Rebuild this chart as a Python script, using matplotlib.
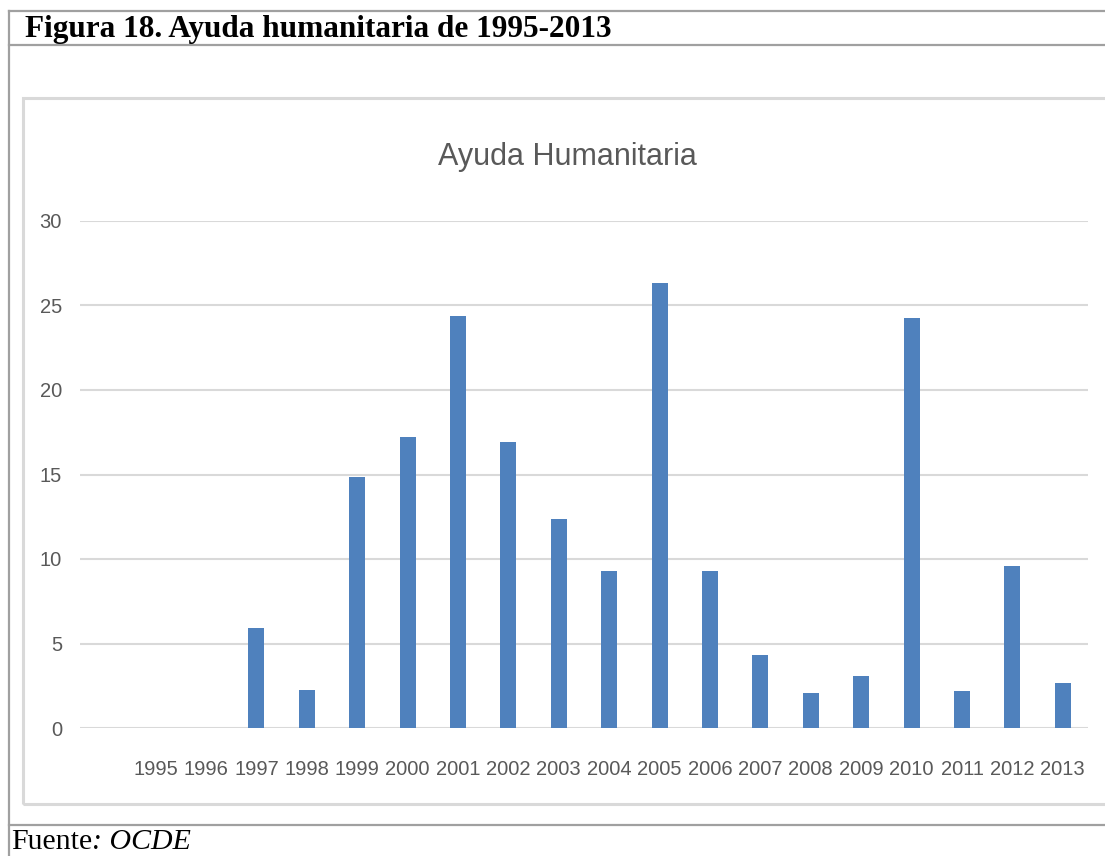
import matplotlib
matplotlib.use("Agg")
import matplotlib.pyplot as plt
from matplotlib.patches import Rectangle
from matplotlib.lines import Line2D

years = [str(y) for y in range(1995, 2014)]
values = [0, 0, 5.9, 2.25, 14.85, 17.2, 24.4, 16.9, 12.35, 9.3, 26.35,
          9.3, 4.3, 2.1, 3.1, 24.25, 2.2, 9.6, 2.65]
y_ticks = [0, 5, 10, 15, 20, 25, 30]

W, H = 1105, 856
DPI = 100
fig = plt.figure(figsize=(W / DPI, H / DPI), dpi=DPI)
fig.patch.set_facecolor("white")


def fx(px):
    return px / W


def fy(py):
    return 1 - py / H


sans = ["Liberation Sans", "DejaVu Sans"]
serif = ["Liberation Serif", "DejaVu Serif"]
frame_col = "#a0a0a0"
grid_col = "#d9d9d9"
text_col = "#595959"
bar_col = "#4f81bd"

# outer table frame
for xs, ys in [([9, 9], [11, H]), ([9, W], [11, 11]),
               ([9, W], [45, 45]), ([9, W], [825, 825])]:
    fig.add_artist(Line2D([fx(x) for x in xs], [fy(y) for y in ys],
                          color=frame_col, lw=1.6))

fig.text(fx(25), fy(29), "Figura 18. Ayuda humanitaria de 1995-2013",
         family=serif, fontweight="bold", fontsize=22.5, va="center")

# footer: "Fuente" upright, ": OCDE" italic right after it
src = fig.text(fx(11), fy(842), "Fuente", family=serif, fontsize=21.5,
               va="center")
renderer = fig.canvas.get_renderer()
bb = src.get_window_extent(renderer)
fig.text(bb.x1 / W, fy(842), ": OCDE", family=serif, fontsize=21.5,
         style="italic", va="center")

# chart box
fig.add_artist(Rectangle((fx(23), fy(804)), fx(W + 20) - fx(23),
                         fy(98) - fy(804), fill=False,
                         edgecolor=grid_col, lw=2.2))

ax = fig.add_axes([fx(80), fy(728), fx(1088) - fx(80), fy(221) - fy(728)])
x = list(range(len(years)))
ax.bar(x, values, width=0.32, color=bar_col, zorder=3)
ax.set_xlim(-1.5, len(years) - 0.5)
ax.set_ylim(0, 30)
ax.set_yticks(y_ticks)
ax.set_xticks(x)
ax.set_xticklabels(years)
ax.yaxis.grid(True, color=grid_col, lw=1.5, zorder=0)
ax.set_axisbelow(True)
for s in ax.spines.values():
    s.set_visible(False)
ax.tick_params(length=0, labelcolor=text_col, labelsize=14.5)
ax.tick_params(axis="y", pad=13)
ax.tick_params(axis="x", pad=23)
for lab in ax.get_xticklabels() + ax.get_yticklabels():
    lab.set_family(sans)

fig.text(fx(567), fy(157), "Ayuda Humanitaria", family=sans,
         fontsize=22, color=text_col, ha="center", va="center")

fig.savefig("out.png", dpi=DPI)
